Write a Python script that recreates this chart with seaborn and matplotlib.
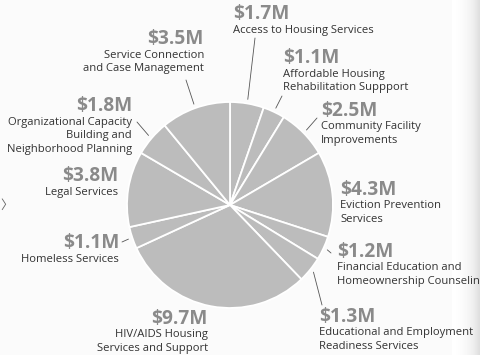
import numpy as np
import matplotlib
matplotlib.use("Agg")
import matplotlib.pyplot as plt
import seaborn as sns

# Funding by program area, clockwise from 12 o'clock
amounts = [1.7, 1.1, 2.5, 4.3, 1.2, 1.3, 9.7, 1.1, 3.8, 1.8, 3.5]
programs = [
    "Access to Housing Services",
    "Affordable Housing\nRehabilitation Suppport",
    "Community Facility\nImprovements",
    "Eviction Prevention\nServices",
    "Financial Education and\nHomeownership Counseling",
    "Educational and Employment\nReadiness Services",
    "HIV/AIDS Housing\nServices and Support",
    "Homeless Services",
    "Legal Services",
    "Organizational Capacity\nBuilding and\nNeighborhood Planning",
    "Service Connection\nand Case Management",
]
amount_labels = [f"${v:.1f}M" for v in amounts]

# label anchor (x, y from top), alignment, whether a leader line is drawn
label_pos = [
    (233, 14, "left", True),
    (283, 58, "left", True),
    (321, 111, "left", True),
    (340, 190, "left", False),
    (337, 252, "left", True),
    (319, 317, "left", True),
    (208, 319, "right", False),
    (119, 243, "right", True),
    (118, 176, "right", False),
    (132, 106, "right", True),
    (204, 39, "right", True),
]
leader_start = [
    (255, 38), (282, 96), (317, 118), None, (331, 253), (322, 305),
    None, (122, 242), None, (137, 122), (186, 80),
]

W, H = 480, 355
sns.set_theme(style="white")
plt.rcParams["font.family"] = ["Open Sans", "DejaVu Sans"]

fig = plt.figure(figsize=(W / 100, H / 100), dpi=100)
fig.patch.set_facecolor("#fbfbfb")
ax = fig.add_axes([0, 0, 1, 1])
ax.set_facecolor("#fbfbfb")

cx, cy, R = 230, H - 205, 103
pie_color = sns.color_palette(["#bcbcbc"])[0]
wedges, _ = ax.pie(
    amounts,
    colors=[pie_color] * len(amounts),
    startangle=90,
    counterclock=False,
    center=(cx, cy),
    radius=R,
    wedgeprops=dict(edgecolor="white", linewidth=1.3),
)
ax.set_xlim(0, W)
ax.set_ylim(0, H)
ax.set_aspect("equal")
ax.axis("off")

amount_color = "#8a8a8a"
text_color = "#333333"
for w, amt, name, (lx, ly, ha, lead), start in zip(
        wedges, amount_labels, programs, label_pos, leader_start):
    ax.text(lx, H - ly, amt, ha=ha, va="center", fontsize=13.8,
            fontweight="bold", color=amount_color)
    ax.text(lx, H - ly - 10.5, name, ha=ha, va="top", fontsize=8.1,
            color=text_color, linespacing=1.36)
    if lead and start is not None:
        mid = np.deg2rad((w.theta1 + w.theta2) / 2)
        ex = cx + 1.04 * R * np.cos(mid)
        ey = cy + 1.04 * R * np.sin(mid)
        ax.plot([start[0], ex], [H - start[1], ey], color="#555555",
                linewidth=0.6)

# page-edge shading on the right and a small chevron on the left
grad = np.linspace(0, 1, 40) ** 2
shade = np.tile(grad, (2, 1))
ax.imshow(shade, extent=(452, 480, 0, H), cmap="Greys", vmin=0, vmax=4.5,
          aspect="auto", zorder=-1, alpha=1)
ax.text(0, H - 205, "〉", ha="left", va="center", fontsize=9,
        color="#666666", family=["Noto Sans CJK SC", "DejaVu Sans"])

fig.savefig("out.png", dpi=100, facecolor=fig.get_facecolor())
